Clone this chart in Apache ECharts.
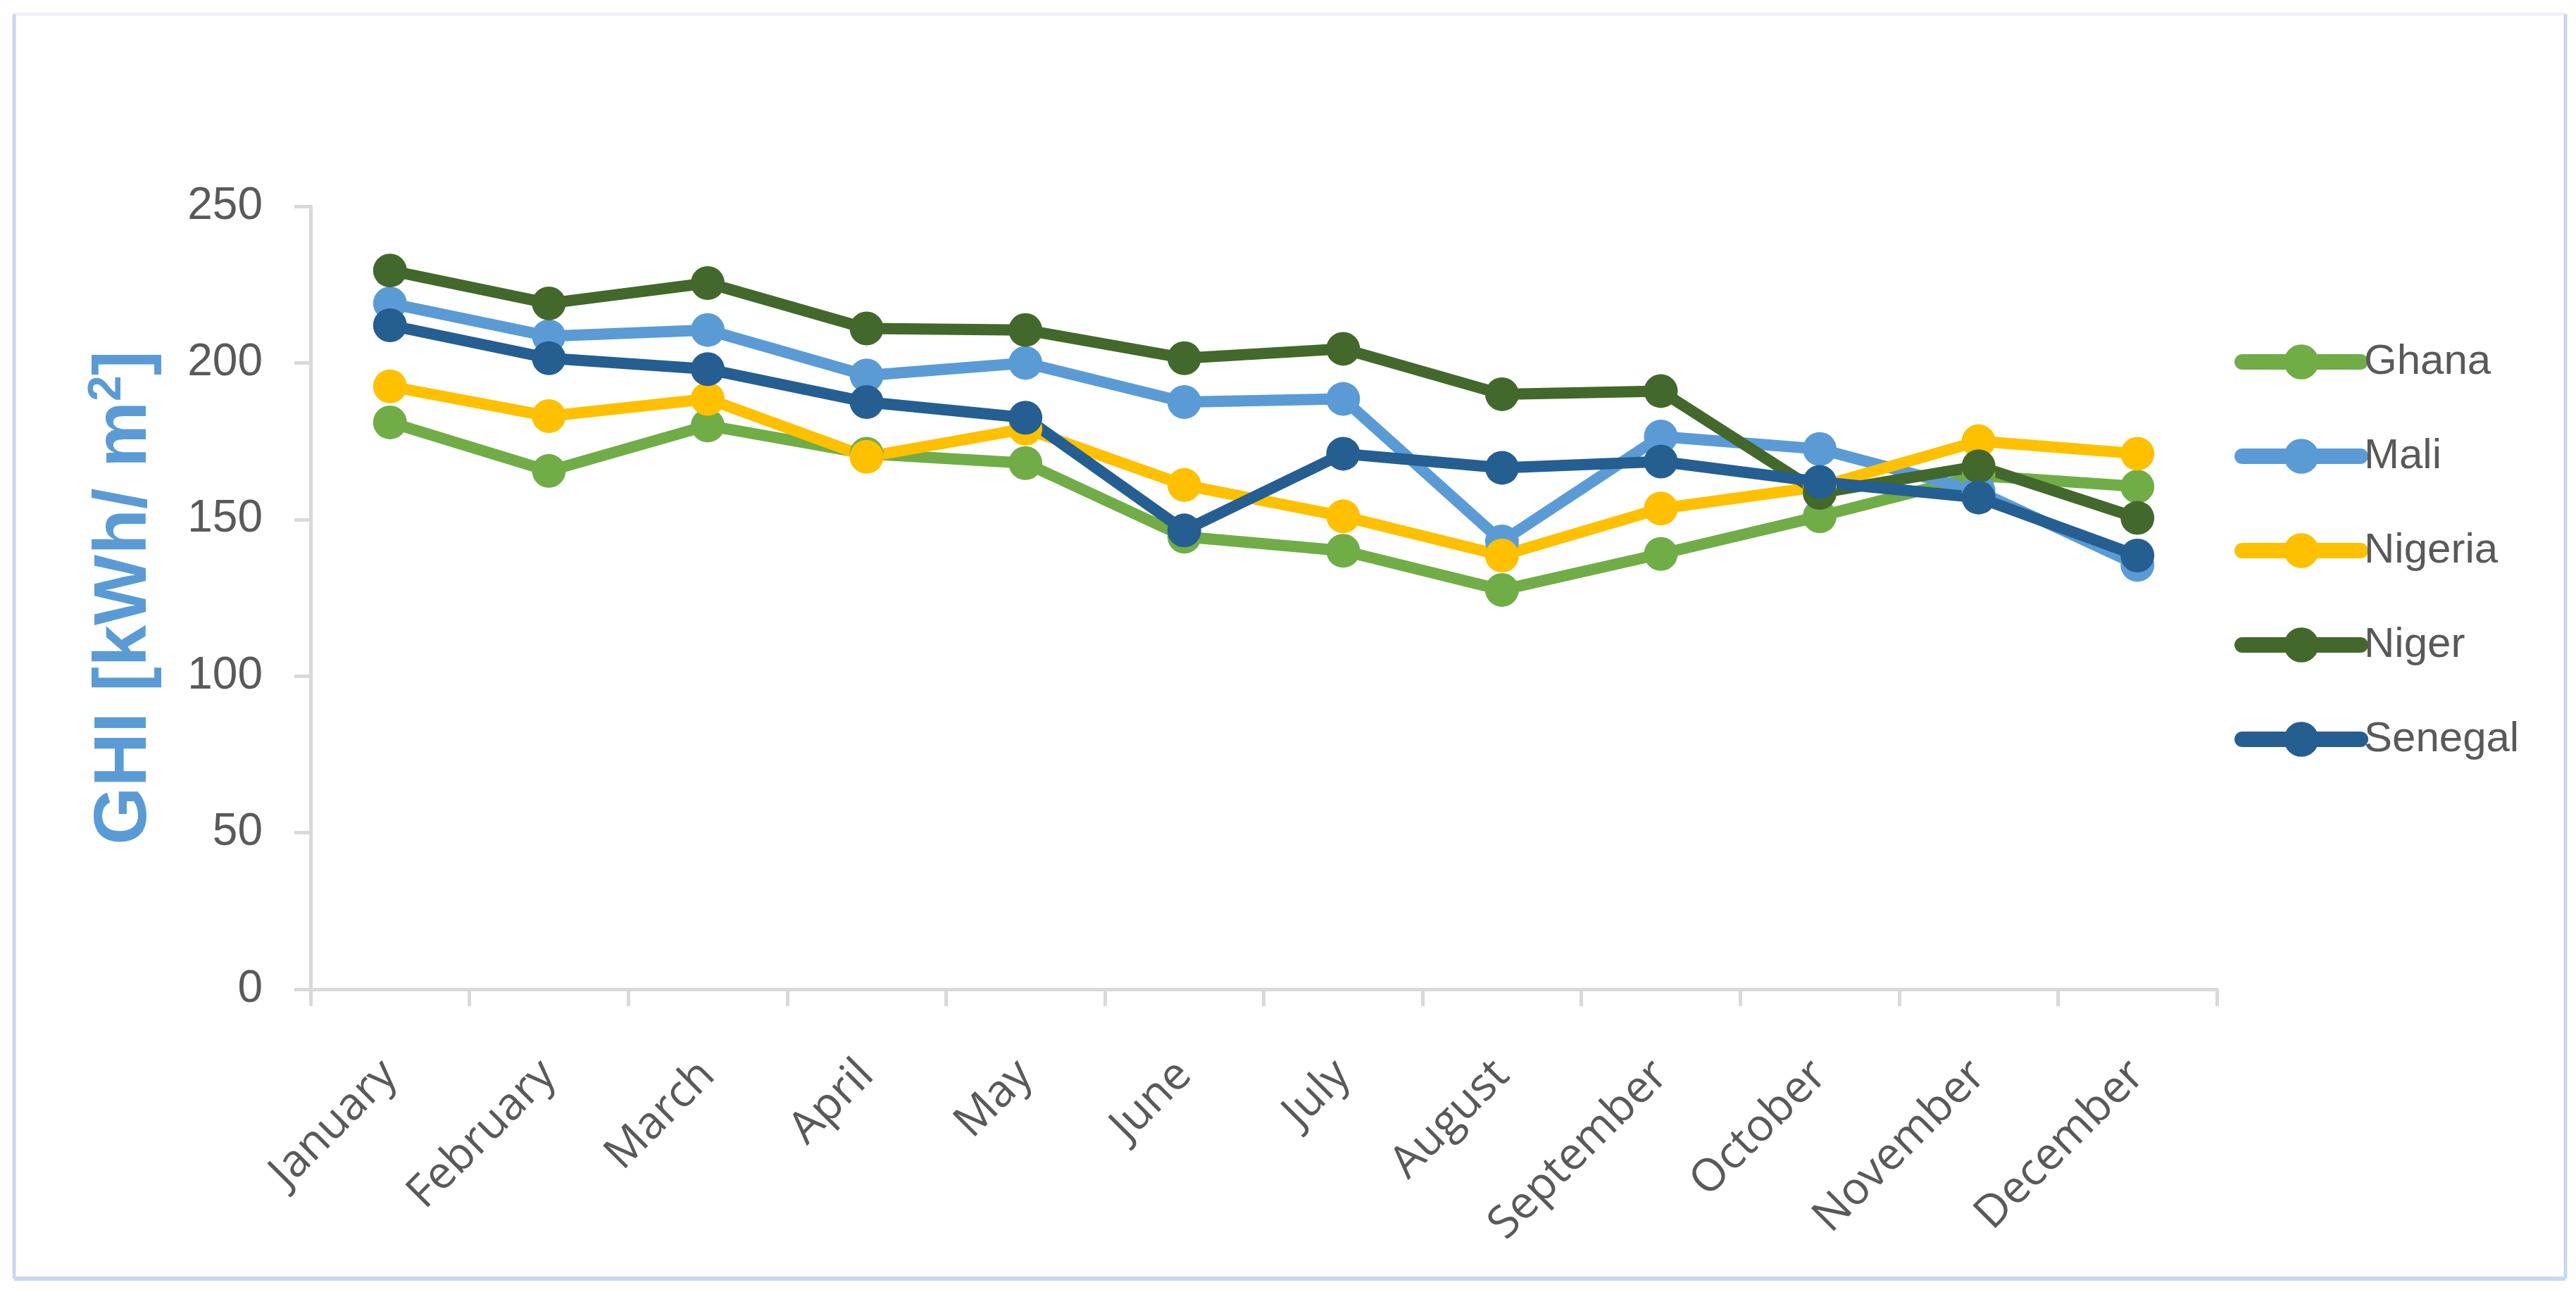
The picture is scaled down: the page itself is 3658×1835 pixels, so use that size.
<!DOCTYPE html>
<html>
<head>
<meta charset="utf-8">
<script src="https://cdn.jsdelivr.net/npm/echarts@6/dist/echarts.min.js"></script>
<style>
  html, body { margin: 0; padding: 0; background: #ffffff; }
  #chart { width: 3658px; height: 1835px; }
</style>
</head>
<body>
<div id="chart"></div>
<script>
const months = ['January','February','March','April','May','June','July','August','September','October','November','December'];
const ghana   = [181, 165.5, 180, 171, 168, 144.5, 140, 127.5, 139, 151, 164, 160.5];
const mali    = [219, 208.5, 210.5, 196, 200, 187.5, 188.5, 143, 176.5, 172.5, 159, 135.5];
const nigeria = [192.5, 183, 188.5, 170, 179, 161, 151, 138.5, 153.5, 160.5, 175, 171];
const niger   = [229.5, 219, 225.5, 211, 210.5, 201.5, 204.5, 190, 191, 158.5, 167, 150.5];
const senegal = [212, 201.5, 198, 187.5, 182.5, 146.5, 171, 166.5, 168.5, 162, 157, 138.5];
const yTicks = { min: 0, max: 250, interval: 50 };

const seriesDefs = [
  { name: 'Ghana', data: ghana, color: '#70AD47' },
  { name: 'Mali', data: mali, color: '#5B9BD5' },
  { name: 'Nigeria', data: nigeria, color: '#FFC000' },
  { name: 'Niger', data: niger, color: '#43682B' },
  { name: 'Senegal', data: senegal, color: '#255E91' }
];

const chart = echarts.init(document.getElementById('chart'), null, { renderer: 'canvas' });
chart.setOption({
  animation: false,
  backgroundColor: '#ffffff',
  graphic: [
    { type: 'line', shape: { x1: 20, y1: 20, x2: 3643, y2: 20 }, style: { stroke: '#eef1f8', lineWidth: 4 } },
    { type: 'line', shape: { x1: 20, y1: 20, x2: 20, y2: 1816 }, style: { stroke: '#c9d8ef', lineWidth: 5 } },
    { type: 'line', shape: { x1: 20, y1: 1816, x2: 3643, y2: 1816 }, style: { stroke: '#c9d8ef', lineWidth: 6 } },
    { type: 'line', shape: { x1: 3643, y1: 20, x2: 3643, y2: 1816 }, style: { stroke: '#c9d8ef', lineWidth: 5 } }
  ],
  grid: { left: 441, right: 3658 - 3148, top: 293, bottom: 1835 - 1405, containLabel: false },
  legend: {
    orient: 'vertical',
    left: 3168,
    top: 474,
    itemWidth: 168,
    itemHeight: 62,
    itemGap: 64,
    lineStyle: { width: 22, cap: 'round' },
    textStyle: { fontFamily: 'Liberation Sans', fontSize: 60, color: '#595959', lineHeight: 70 },
    data: seriesDefs.map(s => s.name)
  },
  xAxis: {
    type: 'category',
    data: months,
    boundaryGap: true,
    axisLine: { lineStyle: { color: '#d9d9d9', width: 5 } },
    axisTick: { show: true, alignWithLabel: false, length: 24, lineStyle: { color: '#d9d9d9', width: 5 } },
    axisLabel: { interval: 0, rotate: 45, margin: 112, fontFamily: 'Open Sans', fontSize: 64, color: '#595959' },
    splitLine: { show: false }
  },
  yAxis: {
    type: 'value',
    min: yTicks.min,
    max: yTicks.max,
    interval: yTicks.interval,
    name: 'GHI [kWh/ m{sup|2}]',
    nameLocation: 'middle',
    nameRotate: 90,
    nameGap: 205,
    nameTextStyle: {
      fontFamily: 'Liberation Sans',
      fontWeight: 'bold',
      fontSize: 106,
      color: '#5B9BD5',
      lineHeight: 116,
      rich: {
        sup: { fontFamily: 'Liberation Sans', fontWeight: 'bold', fontSize: 66, color: '#5B9BD5', verticalAlign: 'top', lineHeight: 116, padding: [0, 0, 40, 0] }
      }
    },
    axisLine: { show: true, lineStyle: { color: '#d9d9d9', width: 5 } },
    axisTick: { show: true, length: 23, lineStyle: { color: '#d9d9d9', width: 5 } },
    axisLabel: { margin: 68, fontFamily: 'Liberation Sans', fontSize: 64, color: '#595959' },
    splitLine: { show: false }
  },
  series: seriesDefs.map(s => ({
    name: s.name,
    type: 'line',
    data: s.data,
    symbol: 'circle',
    symbolSize: 48,
    showSymbol: true,
    itemStyle: { color: s.color },
    lineStyle: { color: s.color, width: 16 },
    emphasis: { disabled: true }
  }))
});
</script>
</body>
</html>
